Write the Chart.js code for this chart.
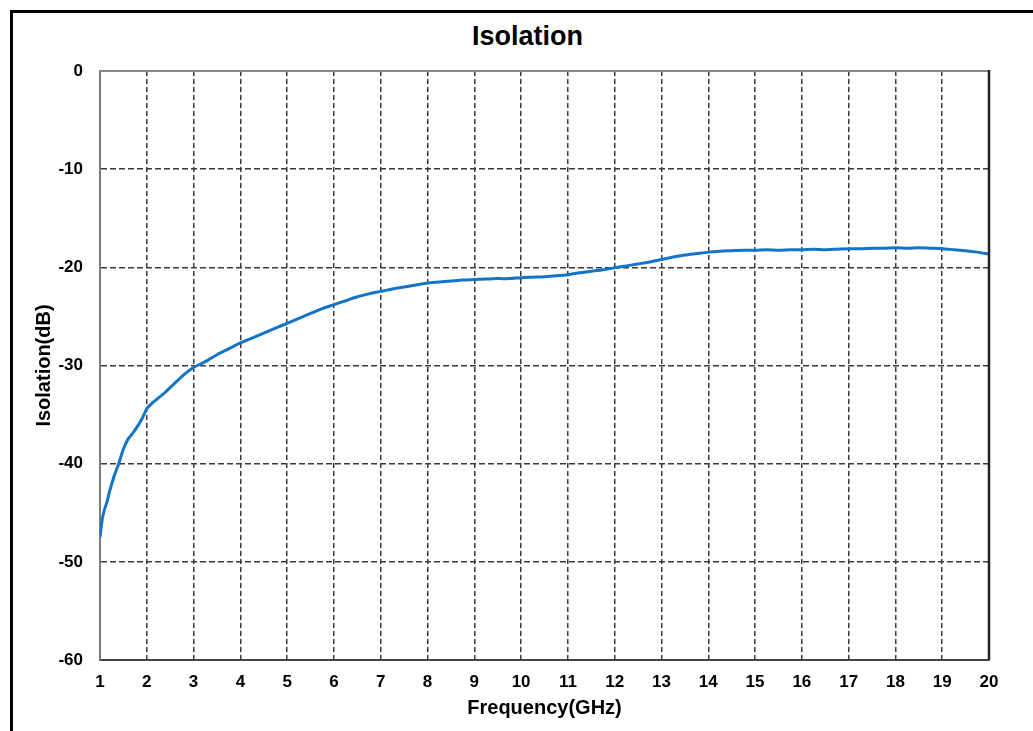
<!DOCTYPE html>
<html>
<head>
<meta charset="utf-8">
<title>Isolation</title>
<script src="https://cdn.jsdelivr.net/npm/chart.js@4"></script>
<style>
  html, body { margin: 0; padding: 0; background: #fff; }
  body { width: 1033px; height: 731px; position: relative; overflow: hidden; }
  #frame {
    position: absolute; left: 10px; top: 10px; width: 1100px; height: 800px;
    border-left: 3px solid #000; border-top: 3px solid #000;
  }
  #chartTitle {
    position: absolute; left: 0; top: 23px; width: 1055px; text-align: center;
    font: bold 27px 'Liberation Sans', Arial, sans-serif; line-height: 27px; color: #000;
  }
  #myChart { position: absolute; left: 0; top: 0; }
</style>
</head>
<body>
<div id="frame"></div>
<div id="chartTitle">Isolation</div>
<canvas id="myChart" width="1033" height="731"></canvas>
<script>
// frequency (GHz) and isolation (dB)
const freqGHz = [
  1.0, 1.05, 1.1, 1.15, 1.2, 1.3, 1.4, 1.5, 1.6, 1.7, 1.8, 1.9, 2.0, 2.1, 2.2, 2.4, 2.6, 2.8,
  3.0, 3.25, 3.5, 3.75, 4.0, 4.25, 4.5, 4.75, 5.0, 5.25, 5.5, 5.75, 6.0, 6.25, 6.5, 6.75,
  7.0, 7.25, 7.5, 7.75, 8.0, 8.25, 8.5, 8.75, 9.0, 9.25, 9.5, 9.75, 10.0, 10.25, 10.5, 10.75,
  11.0, 11.25, 11.5, 11.75, 12.0, 12.25, 12.5, 12.75, 13.0, 13.25, 13.5, 13.75, 14.0, 14.25,
  14.5, 14.75, 15.0, 15.25, 15.5, 15.75, 16.0, 16.25, 16.5, 16.75, 17.0, 17.25, 17.5, 17.75,
  18.0, 18.25, 18.5, 18.75, 19.0, 19.25, 19.5, 19.75, 20.0
];
const isolationDB = [
  -47.5, -45.6, -44.6, -43.9, -42.9, -41.3, -40.0, -38.5, -37.5, -36.9, -36.2, -35.4, -34.4, -33.9, -33.5, -32.7, -31.8, -30.9,
  -30.2, -29.6, -28.9, -28.3, -27.7, -27.2, -26.7, -26.2, -25.7, -25.2, -24.7, -24.2, -23.8, -23.4, -23.0, -22.7,
  -22.45, -22.2, -22.0, -21.8, -21.6, -21.5, -21.4, -21.3, -21.25, -21.2, -21.15, -21.15, -21.05, -21.0, -20.95, -20.85,
  -20.75, -20.55, -20.4, -20.25, -20.05, -19.85, -19.65, -19.45, -19.2, -18.95, -18.75, -18.6, -18.45, -18.35,
  -18.3, -18.25, -18.25, -18.2, -18.25, -18.2, -18.2, -18.15, -18.2, -18.15, -18.1, -18.1, -18.05, -18.05,
  -18.0, -18.05, -18.0, -18.05, -18.1, -18.2, -18.3, -18.45, -18.65
];
const xTicks = [1, 2, 3, 4, 5, 6, 7, 8, 9, 10, 11, 12, 13, 14, 15, 16, 17, 18, 19, 20];
const yTicks = [0, -10, -20, -30, -40, -50, -60];

const FONT = "'Liberation Sans', Arial, sans-serif";
const GRID_COLOR = '#3a3a3a';

// top and right edges of the plot box
var boxPlugin = {
  id: 'box',
  afterDraw(chart) {
    const a = chart.chartArea;
    const c = chart.ctx;
    c.save();
    c.setLineDash([]);
    c.lineWidth = 2;
    c.strokeStyle = '#8a8a8a';
    c.beginPath();
    c.moveTo(a.left, a.top);
    c.lineTo(a.right, a.top);
    c.stroke();
    c.lineWidth = 2.5;
    c.strokeStyle = '#222';
    c.beginPath();
    c.moveTo(a.right, a.top - 1);
    c.lineTo(a.right, a.bottom);
    c.stroke();
    c.restore();
  }
};

function edgeHidden(list) {
  return function(ctx) {
    if (!ctx.tick) return GRID_COLOR;
    return list.includes(ctx.tick.value) ? 'rgba(0,0,0,0)' : GRID_COLOR;
  };
}

var ctx = document.getElementById('myChart').getContext('2d');
var chart = new Chart(ctx, {
  type: 'line',
  data: {
    datasets: [{
      label: 'Isolation',
      data: freqGHz.map((f, i) => ({ x: f, y: isolationDB[i] })),
      borderColor: '#1474c8',
      borderWidth: 3,
      pointRadius: 0,
      tension: 0.25,
      fill: false
    }]
  },
  options: {
    responsive: false,
    animation: false,
    devicePixelRatio: 1,
    layout: { padding: { left: 30, right: 44, top: 71, bottom: 0 } },
    plugins: {
      legend: { display: false },
      tooltip: { enabled: false }
    },
    scales: {
      x: {
        type: 'linear',
        min: xTicks[0],
        max: xTicks[xTicks.length - 1],
        afterBuildTicks: s => { s.ticks = xTicks.map(v => ({ value: v })); },
        afterFit: s => { s.height = 71; },
        ticks: { padding: 12, color: '#000', font: { family: FONT, size: 17, weight: 'bold' }, maxRotation: 0, autoSkip: false },
        grid: { color: edgeHidden([1, 20]), lineWidth: 1.5, drawTicks: false },
        // border.dash dashes the grid lines; the axis line itself stays solid
        border: { display: true, color: '#444', width: 2, dash: [5, 3] },
        title: {
          display: true, text: 'Frequency(GHz)', color: '#000',
          font: { family: FONT, size: 20, weight: 'bold' },
          padding: { top: 0, bottom: 11 }
        }
      },
      y: {
        type: 'linear',
        min: -60,
        max: 0,
        afterBuildTicks: s => { s.ticks = yTicks.map(v => ({ value: v })); },
        afterFit: s => { s.width = 70; },
        ticks: { padding: 17, color: '#000', font: { family: FONT, size: 17, weight: 'bold' } },
        grid: { color: edgeHidden([0, -60]), lineWidth: 1.5, drawTicks: false },
        border: { display: true, color: '#7a7a7a', width: 2, dash: [6, 3] },
        title: {
          display: true, text: 'Isolation(dB)', color: '#000',
          font: { family: FONT, size: 20, weight: 'bold' },
          padding: { top: 2, bottom: 0 }
        }
      }
    }
  },
  plugins: [boxPlugin]
});
</script>
</body>
</html>
